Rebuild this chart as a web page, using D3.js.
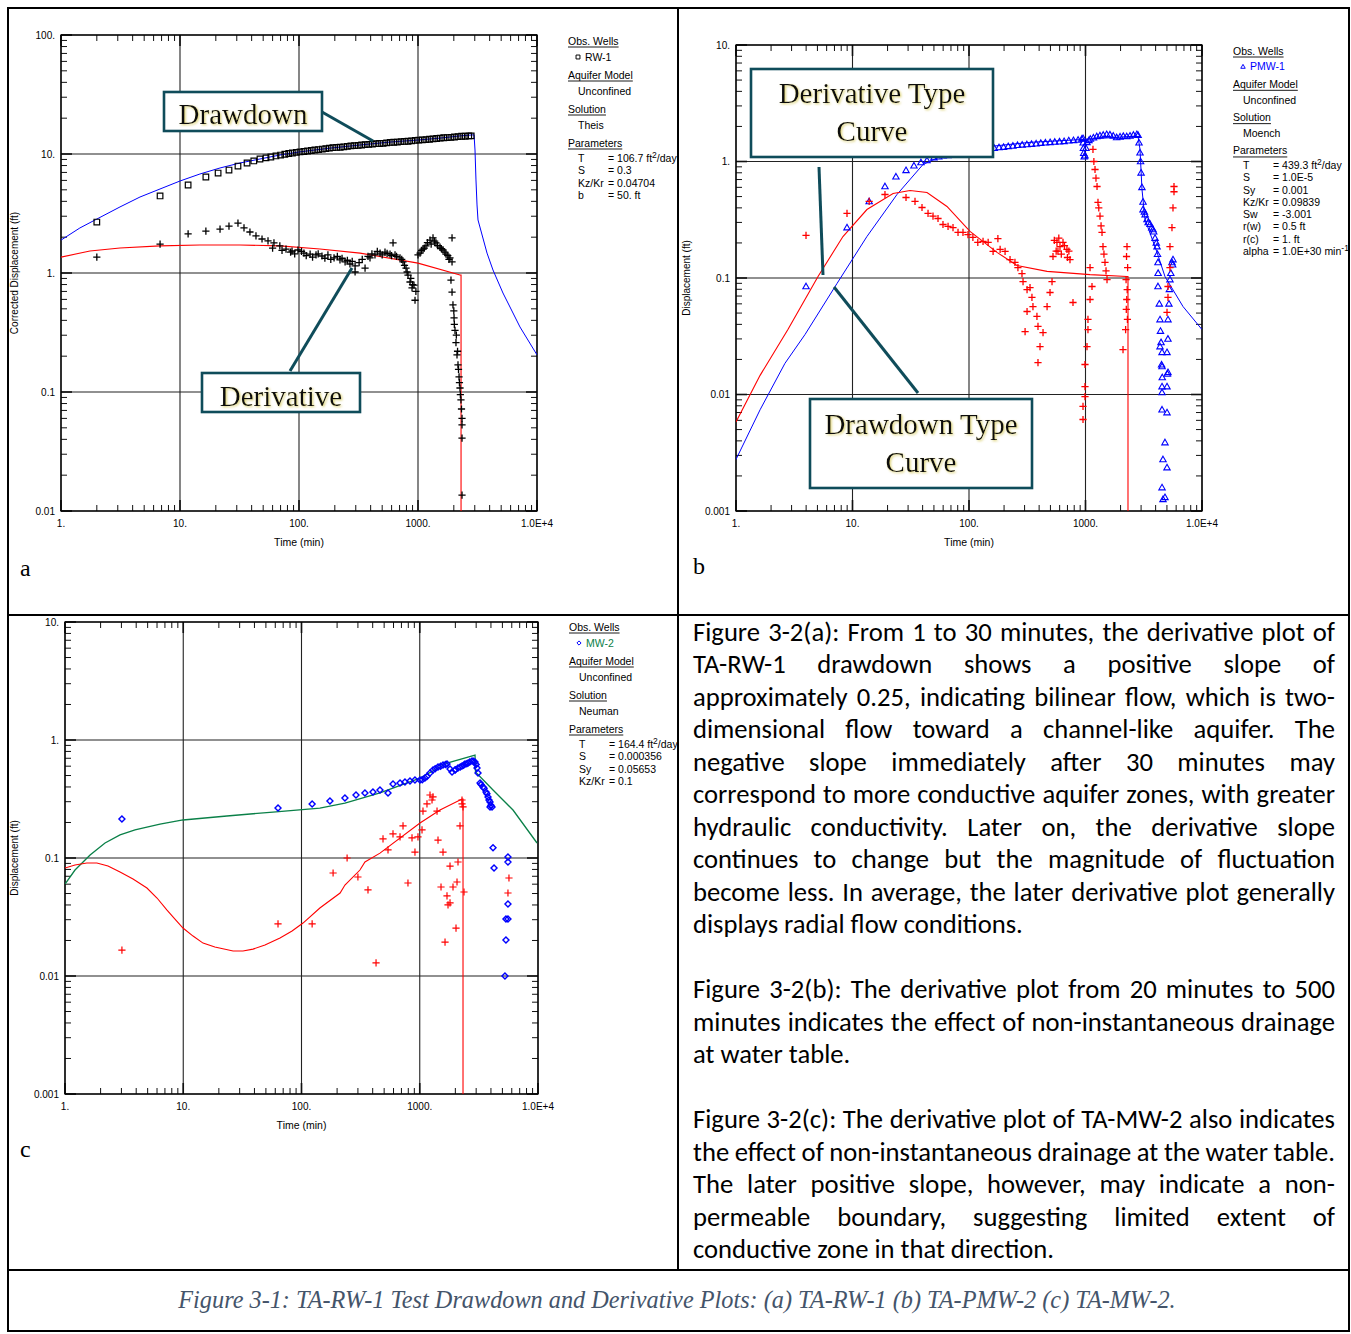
<!DOCTYPE html>
<html>
<head>
<meta charset="utf-8">
<script src="https://cdn.jsdelivr.net/npm/d3@7"></script>
<style>
body { margin: 0; background: #fff; }
svg { display: block; }
svg text { font-family: "Liberation Sans", Arial, sans-serif; }
svg text.para { font-family: Carlito, Calibri, Lato, sans-serif; }
svg text.serif { font-family: "Liberation Serif", "Times New Roman", serif; }
</style>
</head>
<body>
<script>
// ---------- data (time in min, displacement in ft) ----------
var timeLabels = ["1.", "10.", "100.", "1000.", "1.0E+4"];
var yLabelsA = ["0.01", "0.1", "1.", "10.", "100."];
var yLabelsBC = ["0.001", "0.01", "0.1", "1.", "10."];

// panel a : RW-1
var rw1Drawdown = [[2,2.68],[6.8,4.44],[11.7,5.49],[16.5,6.41],[20.9,6.92],[25.8,7.33],[30.7,7.92],[36.6,8.40],[41.7,8.74],[47,9.08],[52.8,9.27],[58,9.44],[64,9.63],[70,9.8],[76,9.95],[82,10.1],[88,10.2],[95,10.3],[102,10.4],[110,10.5],[118,10.6],[127,10.7],[136,10.8],[146,10.9],[157,11.0],[168,11.1],[180,11.2],[193,11.3],[207,11.35],[222,11.4],[238,11.5],[255,11.6],[273,11.7],[293,11.75],[314,11.8],[336,11.9],[360,12.0],[386,12.05],[414,12.1],[443,12.2],[475,12.25],[509,12.3],[545,12.4],[584,12.5],[626,12.55],[671,12.6],[719,12.7],[770,12.75],[825,12.8],[884,12.9],[947,13.0],[1015,13.1],[1088,13.15],[1165,13.2],[1249,13.3],[1338,13.4],[1434,13.5],[1536,13.6],[1646,13.7],[1764,13.75],[1890,13.8],[2025,13.9],[2170,14.0],[2325,14.1],[2491,14.1],[2669,14.2],[2800,14.2]];
var rw1Derivative = [[2,1.36],[6.8,1.75],[11.7,2.13],[16.5,2.25],[21.7,2.34],[25.8,2.48],[30.7,2.63],[34.5,2.39],[38.7,2.21],[43.5,2.05],[48.9,1.93],[54.9,1.86],[61.6,1.79],[69,1.69],[77.8,1.59],[87.4,1.53],[98,1.56],[110,1.47],[124,1.44],[139,1.42],[156,1.39],[175,1.42],[197,1.34],[221,1.29],[244,1.24],[268,1.19],[296,1.15],[296,1.02],[359,1.10],[395,1.34],[435,1.42],[480,1.47],[528,1.50],[582,1.44],[617,1.79],[641,1.42],[706,1.34],[748,1.24],[793,1.10],[824,0.96],[857,0.84],[891,0.75],[925,0.79],[944,0.59],[1000,1.42],[1040,1.47],[1102,1.59],[1167,1.69],[1262,1.89],[1337,1.97],[1416,1.79],[1531,1.65],[1622,1.56],[1718,1.44],[1857,1.34],[1932,1.97],[1932,1.24],[1893,0.87],[1932,0.69],[1967,0.54],[2009,0.42],[2046,0.33],[2085,0.26],[2127,0.205],[2168,0.169],[2213,0.134],[2254,0.108],[2296,0.086],[2344,0.060],[2344,0.053],[2344,0.041],[2344,0.0136],
  [60,1.62],[72,1.55],[85,1.50],[92,1.45],[105,1.52],[115,1.40],[130,1.36],[145,1.45],[165,1.33],[185,1.30],[210,1.38],[230,1.33],[255,1.28],[280,1.25],[320,1.22],[340,1.30],[380,1.38],[410,1.45],[455,1.52],[500,1.42],[550,1.46],[600,1.40],[660,1.38],[730,1.30],[770,1.16],[810,1.02],[870,0.90],[900,0.80],[960,0.70],[1070,1.55],[1130,1.62],[1200,1.80],[1290,1.75],[1380,1.85],[1460,1.70],[1570,1.60],[1680,1.50],[1780,1.40],[1820,1.30],[2000,0.48],[2020,0.37],[2100,0.30],[2150,0.22],[2190,0.155],[2230,0.12],[2270,0.095],[2320,0.072]];
var theisCurve = [[1,1.89],[1.44,2.39],[2,2.84],[3.13,3.59],[4.61,4.35],[6.79,5.08],[10,5.93],[14.7,6.79],[21.7,7.63],[31.9,8.40],[47,9.08],[69.2,9.81],[100,10.4],[182,11.2],[326,11.9],[582,12.6],[1000,13.1],[1531,13.6],[2254,14.2],[2958,14.5],[3013,10.8],[3070,6.05],[3133,3.73],[3193,2.79],[3802,1.47],[4266,1.06],[5176,0.679],[7194,0.352],[10000,0.205]];
var theisDeriv = [[1,1.36],[1.75,1.53],[3.13,1.62],[6.79,1.69],[14.7,1.72],[31.9,1.72],[69.2,1.69],[150,1.59],[326,1.47],[1000,1.21],[2254,0.962],[2300,0.96],[2300,0.0001]];

// panel b : PMW-1
var pmw1Drawdown = [[3.99,0.0845],[8.97,0.271],[13.9,0.454],[19.0,0.61],[23.6,0.74],[28.8,0.84],[33.7,0.92],[38.7,0.98],[43.6,1.02],
  [50,1.08],[55,1.10],[60,1.12],[66,1.13],[72,1.15],[79,1.17],[87,1.19],[95,1.21],[104,1.23],[114,1.25],[125,1.26],[137,1.28],[150,1.29],[165,1.30],[181,1.32],[198,1.33],[217,1.35],[238,1.36],[261,1.38],[286,1.39],[314,1.40],[344,1.41],[377,1.42],[413,1.44],[453,1.45],[497,1.46],[545,1.47],[598,1.48],[655,1.49],[718,1.51],[788,1.52],[864,1.53],[930,1.56],[952,1.58],[955,1.45],[960,1.30],[965,1.18],[975,1.10],[990,1.12],[1010,1.30],[1030,1.46],[1070,1.52],[1100,1.56],[1170,1.60],[1250,1.64],[1330,1.67],[1420,1.69],[1520,1.71],[1620,1.70],[1730,1.66],[1850,1.61],[1980,1.63],[2110,1.65],[2260,1.64],[2410,1.66],[2580,1.69],[2760,1.71],[2830,1.68],
  [2880,1.45],[2937,1.19],[2970,1.0],[3000,0.8],[3050,0.6],[3117,0.45],[3117,0.387],[3200,0.37],[3250,0.35],[3373,0.318],[3450,0.30],[3580,0.29],[3700,0.27],[3795,0.261],[3850,0.25],[3952,0.22],[4050,0.2],[4112,0.186],[4150,0.16],[4190,0.136],[4200,0.11],[4190,0.0845],[4300,0.06],[4362,0.044],[4400,0.035],[4362,0.0258],[4450,0.028],[4538,0.023],[4500,0.018],[4538,0.0174],[4560,0.014],
  [4538,0.0117],[4538,0.0104],[4538,0.0074],[5008,0.0070],[4811,0.00387],[4625,0.00277],[5008,0.00236],[4538,0.00159],[4811,0.00131],[4625,0.00126],
  [5008,0.0117],[5008,0.023],[5105,0.0155],[5050,0.015],[5100,0.03],[5105,0.044],[5200,0.06],[5250,0.08],[5309,0.097],[5400,0.11],[5524,0.136],[5600,0.13],[5636,0.144]];
var pmw1Derivative = [[3.99,0.232],[8.97,0.358],[13.9,0.454],[19.0,0.521],[28.8,0.491],[34.4,0.454],[39.5,0.403],[44.5,0.358],[49.1,0.340],[54.2,0.324],[59.8,0.288],[66.1,0.277],[72.9,0.271],[80.5,0.246],[88.8,0.246],[98.0,0.236],[108,0.223],[119,0.202],[132,0.206],[146,0.202],[161,0.169],[177,0.218],[185,0.176],[204,0.169],[225,0.144],[248,0.136],[263,0.123],[285,0.109],[291,0.093],[303,0.0347],[315,0.0516],[315,0.0796],[334,0.0828],[347,0.0681],[354,0.0569],[383,0.0468],[391,0.0384],[432,0.0340],[407,0.0258],[391,0.0188],[468,0.0569],[496,0.0751],[516,0.093],[526,0.153],[569,0.202],[604,0.186],[641,0.202],[693,0.176],[736,0.144],[781,0.0616],[540,0.21],[580,0.17],[620,0.16],[660,0.19],[700,0.15],[720,0.17],[590,0.22],[560,0.17],
  [1159,1.27],[1180,1.0],[1207,0.854],[1230,0.72],[1256,0.61],[1280,0.445],[1300,0.40],[1332,0.340],[1360,0.28],[1386,0.246],[1413,0.186],[1440,0.16],[1470,0.136],[1500,0.115],[1530,0.097],
  [1094,0.123],[1137,0.0845],[1094,0.0654],[1050,0.0441],[1050,0.0361],[1030,0.0258],[990,0.0181],[990,0.0117],[990,0.0096],[952,0.0079],[952,0.0061],
  [2271,0.186],[2250,0.153],[2300,0.123],[2230,0.097],[2280,0.0796],[2260,0.0654],[2240,0.0537],[2290,0.0441],[2210,0.0361],[2099,0.0243],
  [5008,0.0506],[5105,0.0681],[5105,0.0845],[5309,0.123],[5309,0.186],[5524,0.271],[5636,0.40],[5750,0.55],[5750,0.61]];
var moenchCurve = [[1,0.00277],[1.61,0.0074],[2.63,0.0185],[3.91,0.0327],[7.36,0.0897],[13.3,0.227],[24.1,0.521],[40.3,0.943],[64.7,1.17],[124,1.32],[334,1.46],[897,1.54],[2410,1.64],[2824,1.64],[2937,1.27],[3054,0.575],[3243,0.318],[4112,0.166],[4811,0.103],[6871,0.0569],[10000,0.0361]];
var moenchDeriv = [[1,0.0058],[1.61,0.0146],[2.79,0.0361],[5.06,0.103],[8.28,0.227],[13.3,0.387],[22.3,0.531],[31.2,0.564],[43.6,0.542],[64.7,0.411],[102,0.251],[174,0.166],[258,0.128],[468,0.114],[1094,0.107],[2271,0.103],[2316,0.103],[2316,0.0001]];

// panel c : MW-2
var mw2Drawdown = [[3.03,0.214],[63.3,0.265],[123,0.287],[174,0.304],[233,0.323],[289,0.342],[344,0.356],[402,0.362],[461,0.377],[539,0.356],[594,0.424],[681,0.432],[750,0.441],[827,0.450],[911,0.458],[1005,0.458],[1050,0.46],[1107,0.476],[1150,0.49],[1221,0.525],[1294,0.557],[1350,0.57],[1427,0.590],[1500,0.60],[1573,0.614],[1650,0.62],[1700,0.626],[1803,0.568],[1875,0.536],[1987,0.557],[2000,0.56],[2106,0.579],[2200,0.59],[2277,0.602],[2350,0.61],[2414,0.626],[2500,0.63],[2561,0.638],[2650,0.65],[2767,0.664],[2850,0.66],[2933,0.651],[3000,0.62],[3050,0.579],[3110,0.525],[3235,0.432],[3300,0.42],[3428,0.400],[3500,0.39],[3633,0.362],[3700,0.35],[3778,0.329],[3850,0.31],[3929,0.298],[4000,0.28],[4085,0.271],[3929,0.271],[4165,0.122],[4247,0.0822],[5572,0.102],[5572,0.0925],[5572,0.0408],[5358,0.0304],[5572,0.0304],[5358,0.0202],[5256,0.0100]];
var mw2Derivative = [[3.03,0.0166],[63.3,0.0276],[123,0.0276],[185,0.0746],[243,0.1],[300,0.069],[365,0.0536],[427,0.0129],[489,0.145],[539,0.117],[594,0.160],[681,0.151],[722,0.187],[795,0.0614],[860,0.148],[911,0.112],[966,0.151],[1045,0.173],[1065,0.250],[1151,0.287],[1221,0.342],[1270,0.310],[1294,0.329],[1400,0.250],[1427,0.142],[1513,0.0568],[1573,0.112],[1636,0.0194],[1700,0.0477],[1734,0.0400],[1803,0.0855],[1803,0.0416],[1911,0.0568],[2026,0.0255],[2066,0.0626],[2106,0.0925],[2190,0.187],[2277,0.310],[2277,0.287],[2322,0.271],[2367,0.0515],[5572,0.0505],[5682,0.0677]];
var neumanCurve = [[1,0.0602],[1.215,0.0791],[1.63,0.106],[2.18,0.134],[2.92,0.157],[3.91,0.173],[4.93,0.183],[6.36,0.194],[9.95,0.210],[23.4,0.227],[57.4,0.245],[143,0.265],[233,0.292],[461,0.356],[1005,0.476],[1700,0.638],[2933,0.746],[2960,0.536],[4165,0.377],[6146,0.255],[9812,0.134]];
var neumanDeriv = [[1,0.0822],[1.215,0.0872],[1.53,0.0908],[1.86,0.0908],[2.31,0.0855],[2.92,0.0761],[3.76,0.0664],[4.93,0.0557],[6.0,0.0458],[7.29,0.0362],[8.51,0.0304],[9.95,0.0255],[12.1,0.0218],[14.7,0.0190],[18.5,0.0176],[26.4,0.0163],[32.0,0.0163],[38.9,0.0169],[49.1,0.0183],[65.8,0.0210],[83.2,0.0241],[103,0.0281],[143,0.0377],[212,0.0505],[233,0.059],[312,0.0791],[344,0.0925],[461,0.110],[1005,0.198],[1483,0.255],[2277,0.316],[2322,0.316],[2322,0.0001]];

// legend texts
var paramsA = [["T", "= 106.7 ft", "2", "/day"], ["S", "= 0.3"], ["Kz/Kr", "= 0.04704"], ["b", "= 50. ft"]];
var paramsB = [["T", "= 439.3 ft", "2", "/day"], ["S", "= 1.0E-5"], ["Sy", "= 0.001"], ["Kz/Kr", "= 0.09839"], ["Sw", "= -3.001"], ["r(w)", "= 0.5 ft"], ["r(c)", "= 1. ft"], ["alpha", "= 1.0E+30 min", "-1", ""]];
var paramsC = [["T", "= 164.4 ft", "2", "/day"], ["S", "= 0.000356"], ["Sy", "= 0.05653"], ["Kz/Kr", "= 0.1"]];

var textLines = [
  ["Figure 3-2(a): From 1 to 30 minutes, the derivative plot of", true],
  ["TA-RW-1 drawdown shows a positive slope of", true],
  ["approximately 0.25, indicating bilinear flow, which is two-", true],
  ["dimensional flow toward a channel-like aquifer.  The", true],
  ["negative slope immediately after 30 minutes may", true],
  ["correspond to more conductive aquifer zones, with greater", true],
  ["hydraulic conductivity. Later on, the derivative slope", true],
  ["continues to change but the magnitude of fluctuation", true],
  ["become less. In average, the later derivative plot generally", true],
  ["displays radial flow conditions.", false],
  ["", false],
  ["Figure 3-2(b): The derivative plot from 20 minutes to 500", true],
  ["minutes indicates the effect of non-instantaneous drainage", true],
  ["at water table.", false],
  ["", false],
  ["Figure 3-2(c):  The derivative plot of TA-MW-2 also indicates", true],
  ["the effect of non-instantaneous drainage at the water table.", true],
  ["The later positive slope, however, may indicate a non-", true],
  ["permeable boundary, suggesting limited extent of", true],
  ["conductive zone in that direction.", false]
];
var caption = "Figure 3-1: TA-RW-1 Test Drawdown and Derivative Plots: (a) TA-RW-1 (b) TA-PMW-2 (c) TA-MW-2.";

// ---------- drawing ----------
var svg = d3.select("body").append("svg").attr("width", 1351).attr("height", 1334);
var defs = svg.append("defs");
var glow = defs.append("filter").attr("id", "glow").attr("x", "-10%").attr("y", "-20%").attr("width", "130%").attr("height", "150%");
glow.append("feDropShadow").attr("dx", 1.2).attr("dy", 1.2).attr("stdDeviation", 0.9).attr("flood-color", "#d9cf6a").attr("flood-opacity", 0.9);

function isDecade(v) {
    var l = Math.log10(v);
    return Math.abs(l - Math.round(l)) < 1e-6;
}

function makePanel(cfg) {
    var x = d3.scaleLog().domain([1, 1e4]).range([cfg.left, cfg.right]);
    var y = d3.scaleLog().domain(cfg.yDomain).range([cfg.bottom, cfg.top]);
    var g = svg.append("g").attr("id", "panel_" + cfg.id);

    defs.append("clipPath").attr("id", "clip_" + cfg.id).append("rect")
        .attr("x", cfg.left).attr("y", cfg.top)
        .attr("width", cfg.right - cfg.left).attr("height", cfg.bottom - cfg.top);

    var xt = x.ticks(), yt = y.ticks();
    var xMaj = xt.filter(isDecade), yMaj = yt.filter(isDecade);

    // decade grid
    g.selectAll(".gx").data(xMaj).enter().append("line")
        .attr("x1", x).attr("x2", x).attr("y1", cfg.top).attr("y2", cfg.bottom)
        .attr("stroke", "#222").attr("stroke-width", 1.1);
    g.selectAll(".gy").data(yMaj).enter().append("line")
        .attr("y1", y).attr("y2", y).attr("x1", cfg.left).attr("x2", cfg.right)
        .attr("stroke", "#222").attr("stroke-width", 1.1);

    // inward ticks on all four sides
    var len = function(d) { return isDecade(d) ? 11 : 6; };
    var sw = function(d) { return isDecade(d) ? 1.6 : 1; };
    [cfg.bottom, cfg.top].forEach(function(edge, k) {
        var dir = k === 0 ? -1 : 1;
        g.selectAll(null).data(xt).enter().append("line")
            .attr("x1", x).attr("x2", x)
            .attr("y1", edge).attr("y2", function(d) { return edge + dir * len(d); })
            .attr("stroke", "#111").attr("stroke-width", sw);
    });
    [cfg.left, cfg.right].forEach(function(edge, k) {
        var dir = k === 0 ? 1 : -1;
        g.selectAll(null).data(yt).enter().append("line")
            .attr("y1", y).attr("y2", y)
            .attr("x1", edge).attr("x2", function(d) { return edge + dir * len(d); })
            .attr("stroke", "#111").attr("stroke-width", sw);
    });

    g.append("rect").attr("x", cfg.left).attr("y", cfg.top)
        .attr("width", cfg.right - cfg.left).attr("height", cfg.bottom - cfg.top)
        .attr("fill", "none").attr("stroke", "#000").attr("stroke-width", 1.3);

    // tick labels
    g.selectAll(".xl").data(xMaj).enter().append("text")
        .attr("x", x).attr("y", cfg.bottom + 16)
        .attr("text-anchor", "middle").attr("font-size", 10)
        .text(function(d, i) { return timeLabels[i]; });
    g.selectAll(".yl").data(yMaj).enter().append("text")
        .attr("x", cfg.left - 6).attr("y", function(d) { return y(d) + 3.5; })
        .attr("text-anchor", "end").attr("font-size", 10)
        .text(function(d, i) { return cfg.yLabels[i]; });

    g.append("text").attr("x", (cfg.left + cfg.right) / 2).attr("y", cfg.bottom + 35)
        .attr("text-anchor", "middle").attr("font-size", 10.5).text("Time (min)");
    var cy = (cfg.top + cfg.bottom) / 2;
    g.append("text").attr("transform", "translate(" + cfg.yTitleX + "," + cy + ") rotate(-90)")
        .attr("text-anchor", "middle").attr("font-size", 10).text(cfg.yTitle);

    var plot = g.append("g").attr("clip-path", "url(#clip_" + cfg.id + ")");
    return { x: x, y: y, plot: plot };
}

function curve(p, data, color, w) {
    var line = d3.line().x(function(d) { return p.x(d[0]); }).y(function(d) { return p.y(d[1]); });
    p.plot.append("path").datum(data).attr("d", line)
        .attr("fill", "none").attr("stroke", color).attr("stroke-width", w || 1);
}

function markers(p, data, shape, color, w) {
    p.plot.selectAll(null).data(data).enter().append("path")
        .attr("transform", function(d) { return "translate(" + p.x(d[0]) + "," + p.y(d[1]) + ")"; })
        .attr("d", shape).attr("fill", "none").attr("stroke", color).attr("stroke-width", w);
}

var PLUS = "M-3.6,0H3.6M0,-3.6V3.6";
var SQUARE = "M-2.8,-2.8H2.8V2.8H-2.8Z";
var TRI = "M0,-3.3L3.2,2.3H-3.2Z";
var DIAMOND = "M0,-3L3,0L0,3L-3,0Z";

function legend(cfg) {
    defs.append("clipPath").attr("id", "lclip_" + cfg.id).append("rect")
        .attr("x", cfg.x - 5).attr("y", cfg.y - 15).attr("width", cfg.clipRight - cfg.x + 5).attr("height", 240);
    var g = svg.append("g").attr("clip-path", "url(#lclip_" + cfg.id + ")").attr("font-size", 10.5);
    var off = [0, 16, 34, 50, 68, 84, 102].map(function(d) { return d * cfg.sc; });
    function header(txt, yy) {
        var t = g.append("text").attr("x", cfg.x).attr("y", yy + 3.5).text(txt);
        var w = t.node().getComputedTextLength();
        g.append("line").attr("x1", cfg.x).attr("x2", cfg.x + w)
            .attr("y1", yy + 6).attr("y2", yy + 6).attr("stroke", "#000").attr("stroke-width", 0.9);
    }
    header("Obs. Wells", cfg.y + off[0]);
    g.append("path").attr("transform", "translate(" + (cfg.x + 10) + "," + (cfg.y + off[1]) + ") scale(0.7)")
        .attr("d", cfg.marker).attr("fill", "none").attr("stroke", cfg.markerColor).attr("stroke-width", 1.4);
    g.append("text").attr("x", cfg.x + 17).attr("y", cfg.y + off[1] + 3.5).attr("fill", cfg.wellColor).text(cfg.well);
    header("Aquifer Model", cfg.y + off[2]);
    g.append("text").attr("x", cfg.x + 10).attr("y", cfg.y + off[3] + 3.5).text("Unconfined");
    header("Solution", cfg.y + off[4]);
    g.append("text").attr("x", cfg.x + 10).attr("y", cfg.y + off[5] + 3.5).text(cfg.solution);
    header("Parameters", cfg.y + off[6]);
    cfg.params.forEach(function(p, i) {
        var yy = cfg.y + 117 * cfg.sc + i * 12.5 * cfg.sc + 3.5;
        g.append("text").attr("x", cfg.x + 10).attr("y", yy).text(p[0]);
        var t = g.append("text").attr("x", cfg.x + 40).attr("y", yy);
        t.append("tspan").text(p[1]);
        if (p.length > 2) {
            t.append("tspan").attr("dy", -4).attr("font-size", 8.5).text(p[2]);
            t.append("tspan").attr("dy", 4).text(p[3]);
        }
    });
}

var pa = makePanel({ id: "a", left: 61, right: 537, top: 35, bottom: 511, yDomain: [0.01, 100],
    yLabels: yLabelsA, yTitle: "Corrected Displacement (ft)", yTitleX: 17.5 });
var pb = makePanel({ id: "b", left: 736, right: 1202, top: 45, bottom: 511, yDomain: [0.001, 10],
    yLabels: yLabelsBC, yTitle: "Displacement (ft)", yTitleX: 689.5 });
var pc = makePanel({ id: "c", left: 65, right: 538, top: 622, bottom: 1094, yDomain: [0.001, 10],
    yLabels: yLabelsBC, yTitle: "Displacement (ft)", yTitleX: 17.5 });

// panel a
curve(pa, theisCurve, "#0000ff", 1);
curve(pa, theisDeriv, "#ff0000", 1.1);
markers(pa, rw1Drawdown, SQUARE, "#000", 1.2);
markers(pa, rw1Derivative, PLUS, "#000", 1.3);

// panel b
curve(pb, moenchCurve, "#0000ff", 1);
curve(pb, moenchDeriv, "#ff0000", 1.1);
markers(pb, pmw1Drawdown, TRI, "#0000ff", 1.1);
markers(pb, pmw1Derivative, PLUS, "#ff0000", 1.3);

// panel c
curve(pc, neumanCurve, "#0a8048", 1.3);
curve(pc, neumanDeriv, "#ff0000", 1.1);
markers(pc, mw2Drawdown, DIAMOND, "#0000ff", 1.4);
markers(pc, mw2Derivative, PLUS, "#ff0000", 1.2);

legend({ id: "a", x: 568, y: 41, sc: 1, clipRight: 677, marker: SQUARE, markerColor: "#000",
    well: "RW-1", wellColor: "#000", solution: "Theis", params: paramsA });
legend({ id: "b", x: 1233, y: 51, sc: 0.98, clipRight: 1348, marker: TRI, markerColor: "#0000ff",
    well: "PMW-1", wellColor: "#0000ff", solution: "Moench", params: paramsB });
legend({ id: "c", x: 569, y: 627, sc: 1, clipRight: 677, marker: DIAMOND, markerColor: "#0000ff",
    well: "MW-2", wellColor: "#0a8048", solution: "Neuman", params: paramsC });

// annotation boxes
var notes = [
    { x: 164, y: 92, w: 158, h: 39, lines: ["Drawdown"], base: [124] },
    { x: 202, y: 373, w: 158, h: 39, lines: ["Derivative"], base: [406] },
    { x: 751, y: 69, w: 242, h: 88, lines: ["Derivative Type", "Curve"], base: [103, 141] },
    { x: 810, y: 399, w: 222, h: 89, lines: ["Drawdown Type", "Curve"], base: [434, 472] }
];
var pointers = [[322, 112, 373, 141], [290, 371, 352, 268], [819, 167, 823, 275], [834, 287, 918, 393]];
var ann = svg.append("g");
ann.selectAll(".pt").data(pointers).enter().append("line")
    .attr("x1", function(d) { return d[0]; }).attr("y1", function(d) { return d[1]; })
    .attr("x2", function(d) { return d[2]; }).attr("y2", function(d) { return d[3]; })
    .attr("stroke", "#0f4c5a").attr("stroke-width", 3);
notes.forEach(function(n) {
    ann.append("rect").attr("x", n.x).attr("y", n.y).attr("width", n.w).attr("height", n.h)
        .attr("fill", "#fff").attr("stroke", "#0f4c5a").attr("stroke-width", 2.6);
    n.lines.forEach(function(l, i) {
        ann.append("text").attr("class", "serif").attr("x", n.x + n.w / 2).attr("y", n.base[i])
            .attr("text-anchor", "middle").attr("font-size", 29).attr("filter", "url(#glow)")
            .attr("fill", "#111").text(l);
    });
});

// panel letters
[["a", 20, 576], ["b", 693, 574], ["c", 20, 1157]].forEach(function(d) {
    svg.append("text").attr("class", "serif").attr("x", d[1]).attr("y", d[2]).attr("font-size", 24).text(d[0]);
});

// paragraphs: every word is its own text element so justification is exact
var para = svg.append("g");
var probe = para.append("text").attr("class", "para").attr("font-size", 22).text(textLines[9][0]);
var fs = 22 * 330 / probe.node().getComputedTextLength();
probe.remove();
textLines.forEach(function(l, i) {
    if (!l[0]) return;
    var yb = 640.5 + i * 32.5;
    if (!l[1]) {
        para.append("text").attr("class", "para").attr("font-size", fs)
            .attr("x", 693).attr("y", yb).text(l[0]);
        return;
    }
    var words = l[0].split(/\s+/);
    var nodes = words.map(function(w) {
        return para.append("text").attr("class", "para").attr("font-size", fs).attr("y", yb).text(w);
    });
    var widths = nodes.map(function(s) { return s.node().getComputedTextLength(); });
    var gap = (642 - d3.sum(widths)) / (words.length - 1);
    var xx = 693;
    nodes.forEach(function(s, k) { s.attr("x", xx); xx += widths[k] + gap; });
});

// caption
var cap = svg.append("text").attr("class", "serif").attr("x", 677).attr("y", 1308).attr("text-anchor", "middle")
    .attr("font-size", 22).attr("font-style", "italic").attr("fill", "#44546a").text(caption);
cap.attr("font-size", 22 * 998 / cap.node().getComputedTextLength());

// table rules
var rules = svg.append("g").attr("stroke", "#000").attr("stroke-width", 2);
rules.append("rect").attr("x", 8).attr("y", 8).attr("width", 1341).attr("height", 1323).attr("fill", "none");
rules.append("line").attr("x1", 678).attr("x2", 678).attr("y1", 8).attr("y2", 1270);
rules.append("line").attr("x1", 8).attr("x2", 1349).attr("y1", 615).attr("y2", 615);
rules.append("line").attr("x1", 8).attr("x2", 1349).attr("y1", 1270).attr("y2", 1270);
</script>
</body>
</html>
